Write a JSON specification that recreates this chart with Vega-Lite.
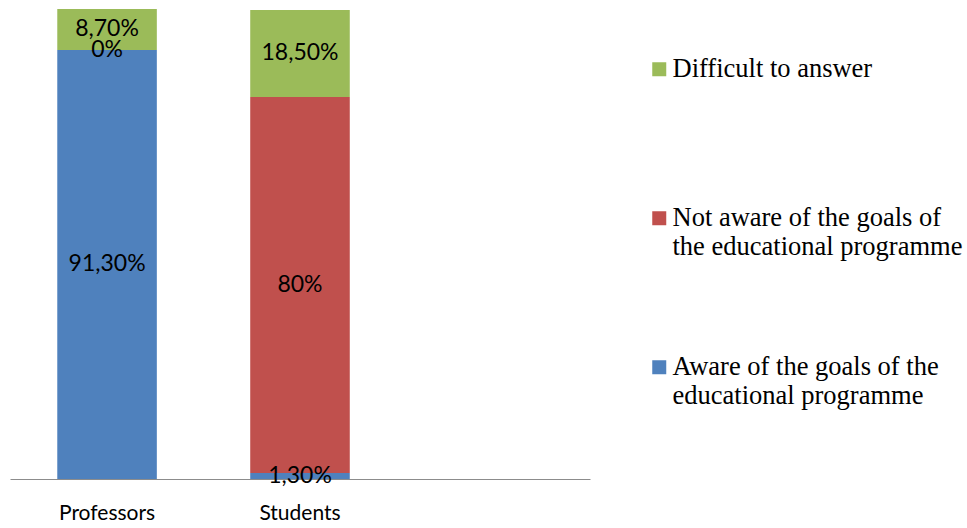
{
  "$schema": "https://vega.github.io/schema/vega-lite/v6.json",
  "width": 580,
  "height": 470,
  "autosize": {"type": "none"},
  "padding": {"left": 10, "top": 9, "right": 377, "bottom": 49},
  "background": "white",
  "config": {"view": {"stroke": null}},
  "data": {
    "values": [
      {"group": "Professors", "cat": "Aware of the goals of the educational programme", "k": 1, "value": 91.3, "label": "91,30%"},
      {"group": "Professors", "cat": "Not aware of the goals of the educational programme", "k": 2, "value": 0, "label": "0%"},
      {"group": "Professors", "cat": "Difficult to answer", "k": 3, "value": 8.7, "label": "8,70%"},
      {"group": "Students", "cat": "Aware of the goals of the educational programme", "k": 1, "value": 1.3, "label": "1,30%"},
      {"group": "Students", "cat": "Not aware of the goals of the educational programme", "k": 2, "value": 80, "label": "80%"},
      {"group": "Students", "cat": "Difficult to answer", "k": 3, "value": 18.5, "label": "18,50%"}
    ]
  },
  "encoding": {
    "x": {
      "field": "group",
      "type": "nominal",
      "scale": {"domain": ["Professors", "Students", " "], "paddingInner": 0.484, "paddingOuter": 0.245},
      "axis": {
        "title": null,
        "labelAngle": 0,
        "ticks": false,
        "domainColor": "#8c8c8c",
        "domainWidth": 1,
        "labelFont": "Lato",
        "labelFontSize": 21,
        "labelColor": "#000000",
        "labelPadding": 23
      }
    }
  },
  "layer": [
    {
      "mark": {"type": "bar"},
      "encoding": {
        "y": {"field": "value", "type": "quantitative", "stack": "zero", "scale": {"domain": [0, 100], "nice": false}, "axis": null},
        "order": {"field": "k", "type": "quantitative"},
        "color": {
          "field": "cat",
          "type": "nominal",
          "scale": {
            "domain": ["Difficult to answer", "Not aware of the goals of the educational programme", "Aware of the goals of the educational programme"],
            "range": ["#9BBB59", "#C0504D", "#4F81BD"]
          },
          "legend": {
            "title": null,
            "orient": "none",
            "legendX": 636,
            "legendY": 47,
            "padding": 0,
            "symbolType": "square",
            "symbolSize": 196,
            "symbolStrokeWidth": 0,
            "labelFont": "Liberation Serif",
            "labelFontSize": 26.5,
            "labelLineHeight": 31,
            "labelColor": "#000000",
            "labelLimit": 400,
            "labelOffset": 0,
            "labelBaseline": "middle",
            "rowPadding": 93,
            "labelExpr": "datum.label == 'Difficult to answer' ? ['Difficult to answer', ''] : datum.label == 'Not aware of the goals of the educational programme' ? ['Not aware of the goals of', 'the educational programme'] : ['Aware of the goals of the', 'educational programme']"
          }
        }
      }
    },
    {
      "mark": {"type": "text", "font": "Lato", "fontSize": 23, "color": "#000000", "baseline": "middle"},
      "encoding": {
        "y": {"field": "value", "type": "quantitative", "stack": "zero", "bandPosition": 0.5},
        "order": {"field": "k", "type": "quantitative"},
        "detail": {"field": "cat"},
        "text": {"field": "label"}
      }
    }
  ]
}
